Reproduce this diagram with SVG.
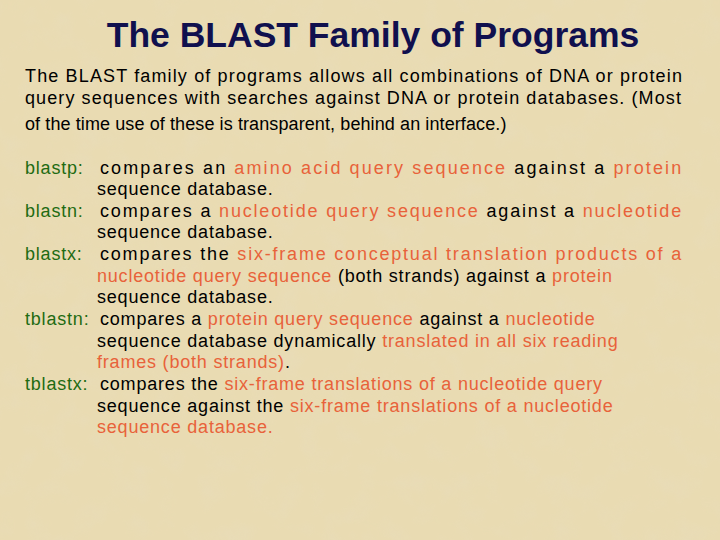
<svg xmlns="http://www.w3.org/2000/svg" width="720" height="540" viewBox="0 0 720 540">
<style>
text{font-family:"Liberation Sans",Arial,sans-serif;fill:#000}
.i{font-size:18px;letter-spacing:0.1px}
.b{font-size:18px;letter-spacing:0.8px}
.g{fill:#1f6b12}
.o{fill:#e8623a}
</style>
<defs>
<filter id="tex"><feTurbulence type="fractalNoise" baseFrequency="0.04" numOctaves="3" seed="3"/><feColorMatrix type="matrix" values="0 0 0 0 0.80  0 0 0 0 0.72  0 0 0 0 0.52  0 0 0 -1 0.55"/></filter>
</defs>
<rect width="720" height="540" fill="#e9dbb2"/>
<rect width="720" height="540" filter="url(#tex)" opacity="0.8"/>
<text x="373" y="47" text-anchor="middle" font-size="35.5" font-weight="bold" style="fill:#10104e">The BLAST Family of Programs</text>
<g class="i">
<text x="25" y="82" textLength="657" lengthAdjust="spacing">The BLAST family of programs allows all combinations of DNA or protein</text>
<text x="25" y="104" textLength="656" lengthAdjust="spacing">query sequences with searches against DNA or protein databases. (Most</text>
<text x="25" y="130">of the time use of these is transparent, behind an interface.)</text>
</g>
<g class="b">
<text x="25" y="174" class="g">blastp:</text>
<text x="100" y="174" textLength="582" lengthAdjust="spacing">compares an <tspan class="o">amino acid query sequence</tspan> against a <tspan class="o">protein</tspan></text>
<text x="97" y="195">sequence database.</text>
<text x="25" y="217" class="g">blastn:</text>
<text x="100" y="217" textLength="582" lengthAdjust="spacing">compares a <tspan class="o">nucleotide query sequence</tspan> against a <tspan class="o">nucleotide</tspan></text>
<text x="97" y="238">sequence database.</text>
<text x="25" y="260" class="g">blastx:</text>
<text x="100" y="260" textLength="582" lengthAdjust="spacing">compares the <tspan class="o">six-frame conceptual translation products of a</tspan></text>
<text x="97" y="282"><tspan class="o">nucleotide query sequence</tspan> (both strands) against a <tspan class="o">protein</tspan></text>
<text x="97" y="303">sequence database.</text>
<text x="25" y="325" class="g">tblastn:</text>
<text x="100" y="325">compares a <tspan class="o">protein query sequence</tspan> against a <tspan class="o">nucleotide</tspan></text>
<text x="97" y="347">sequence database dynamically <tspan class="o">translated in all six reading</tspan></text>
<text x="97" y="368"><tspan class="o">frames (both strands)</tspan>.</text>
<text x="25" y="390" class="g">tblastx:</text>
<text x="100" y="390">compares the <tspan class="o">six-frame translations of a nucleotide query</tspan></text>
<text x="97" y="412">sequence against the <tspan class="o">six-frame translations of a nucleotide</tspan></text>
<text x="97" y="433"><tspan class="o">sequence database.</tspan></text>
</g>
</svg>
